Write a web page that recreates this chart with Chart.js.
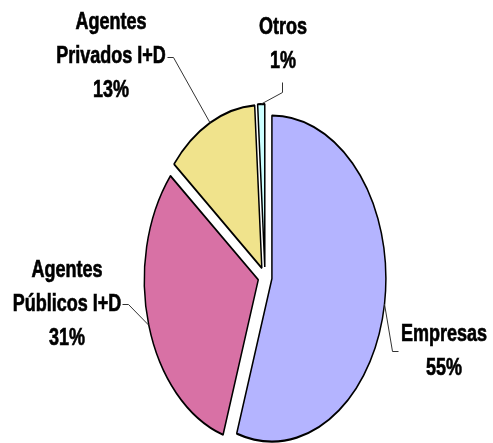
<!DOCTYPE html>
<html>
<head>
<meta charset="utf-8">
<script src="https://cdn.jsdelivr.net/npm/chart.js@4/dist/chart.umd.min.js"></script>
<style>
    html, body { margin: 0; padding: 0; background: #fff; }
    #wrap { width: 493px; height: 443px; position: relative; }
</style>
</head>
<body>
<div id="wrap"><canvas id="pieChart"></canvas></div>
<script>
const categories = [['Empresas'], ['Agentes', 'Públicos I+D'], ['Agentes', 'Privados I+D'], ['Otros']];
const shares = [55, 31, 13, 1];
const sliceColors = ['#b4b4ff', '#d871a5', '#f0e38c', '#ccffff'];

// callout layout in page pixels: first text line centre, leader elbow and end
const callouts = [
    { x: 444, y: 333, elbow: [392, 351], end: [398, 351] },
    { x: 67,  y: 269, elbow: [128, 304], end: [122, 304] },
    { x: 111, y: 21,  elbow: [173, 57],  end: [167, 57] },
    { x: 283, y: 26,  elbow: [282, 92],  end: [282, 82] },
];

const STRETCH = 1.43;       // the original picture is stretched vertically
const TEXT_STRETCH = 1.35;
const EXPLODE = 7;
const LINE_STEP = 34;
const FONT_SIZE = 18;

function squashY(chart, y) {
    const a = chart.chartArea;
    const cy = (a.top + a.bottom) / 2;
    return cy + (y - cy) * STRETCH;
}

const stretchedPie = {
    id: 'stretchedPie',
    afterDatasetUpdate(chart, args) {
        args.meta.data.forEach(arc => {
            const mid = (arc.startAngle + arc.endAngle) / 2;
            arc.x += Math.cos(mid) * EXPLODE;
            arc.y += Math.sin(mid) * EXPLODE;
        });
    },
    beforeDatasetsDraw(chart) {
        const { ctx, chartArea: a } = chart;
        const cy = (a.top + a.bottom) / 2;
        ctx.save();
        ctx.translate(0, cy);
        ctx.scale(1, STRETCH);
        ctx.translate(0, -cy);
    },
    afterDatasetsDraw(chart) {
        chart.ctx.restore();
    },
    afterDraw(chart) {
        const ctx = chart.ctx;
        const arcs = chart.getDatasetMeta(0).data;
        const total = shares.reduce((s, v) => s + v, 0);

        arcs.forEach((arc, i) => {
            const c = callouts[i];
            const mid = (arc.startAngle + arc.endAngle) / 2;
            const ax = arc.x + Math.cos(mid) * arc.outerRadius;
            const ay = squashY(chart, arc.y + Math.sin(mid) * arc.outerRadius);

            ctx.save();
            ctx.strokeStyle = '#333';
            ctx.lineWidth = 1;
            ctx.beginPath();
            ctx.moveTo(ax, ay);
            ctx.lineTo(c.elbow[0] + 0.5, c.elbow[1] + 0.5);
            ctx.lineTo(c.end[0] + 0.5, c.end[1] + 0.5);
            ctx.stroke();
            ctx.restore();

            const lines = categories[i].concat([Math.round(shares[i] / total * 100) + '%']);
            lines.forEach((txt, j) => {
                ctx.save();
                ctx.translate(c.x, c.y + j * LINE_STEP);
                ctx.scale(1, TEXT_STRETCH);
                ctx.font = 'bold ' + FONT_SIZE + 'px "Liberation Sans", Arial, sans-serif';
                ctx.fillStyle = '#000';
                ctx.strokeStyle = '#000';
                ctx.lineWidth = 0.5;
                ctx.textAlign = 'center';
                ctx.textBaseline = 'alphabetic';
                ctx.fillText(txt, 0, FONT_SIZE * 0.344);
                ctx.strokeText(txt, 0, FONT_SIZE * 0.344);
                ctx.restore();
            });
        });
    }
};

new Chart(document.getElementById('pieChart'), {
    type: 'pie',
    data: {
        labels: categories.map(c => c.join(' ')),
        datasets: [{
            data: shares,
            backgroundColor: sliceColors,
            borderColor: '#000',
            borderWidth: 1.5,
            clip: false,
        }],
    },
    options: {
        responsive: true,
        maintainAspectRatio: false,
        animation: false,
        events: [],
        radius: 114,
        layout: { padding: { left: 37, right: 0, top: 111, bottom: 0 } },
        plugins: {
            legend: { display: false },
            tooltip: { enabled: false },
        },
    },
    plugins: [stretchedPie],
});
</script>
</body>
</html>
